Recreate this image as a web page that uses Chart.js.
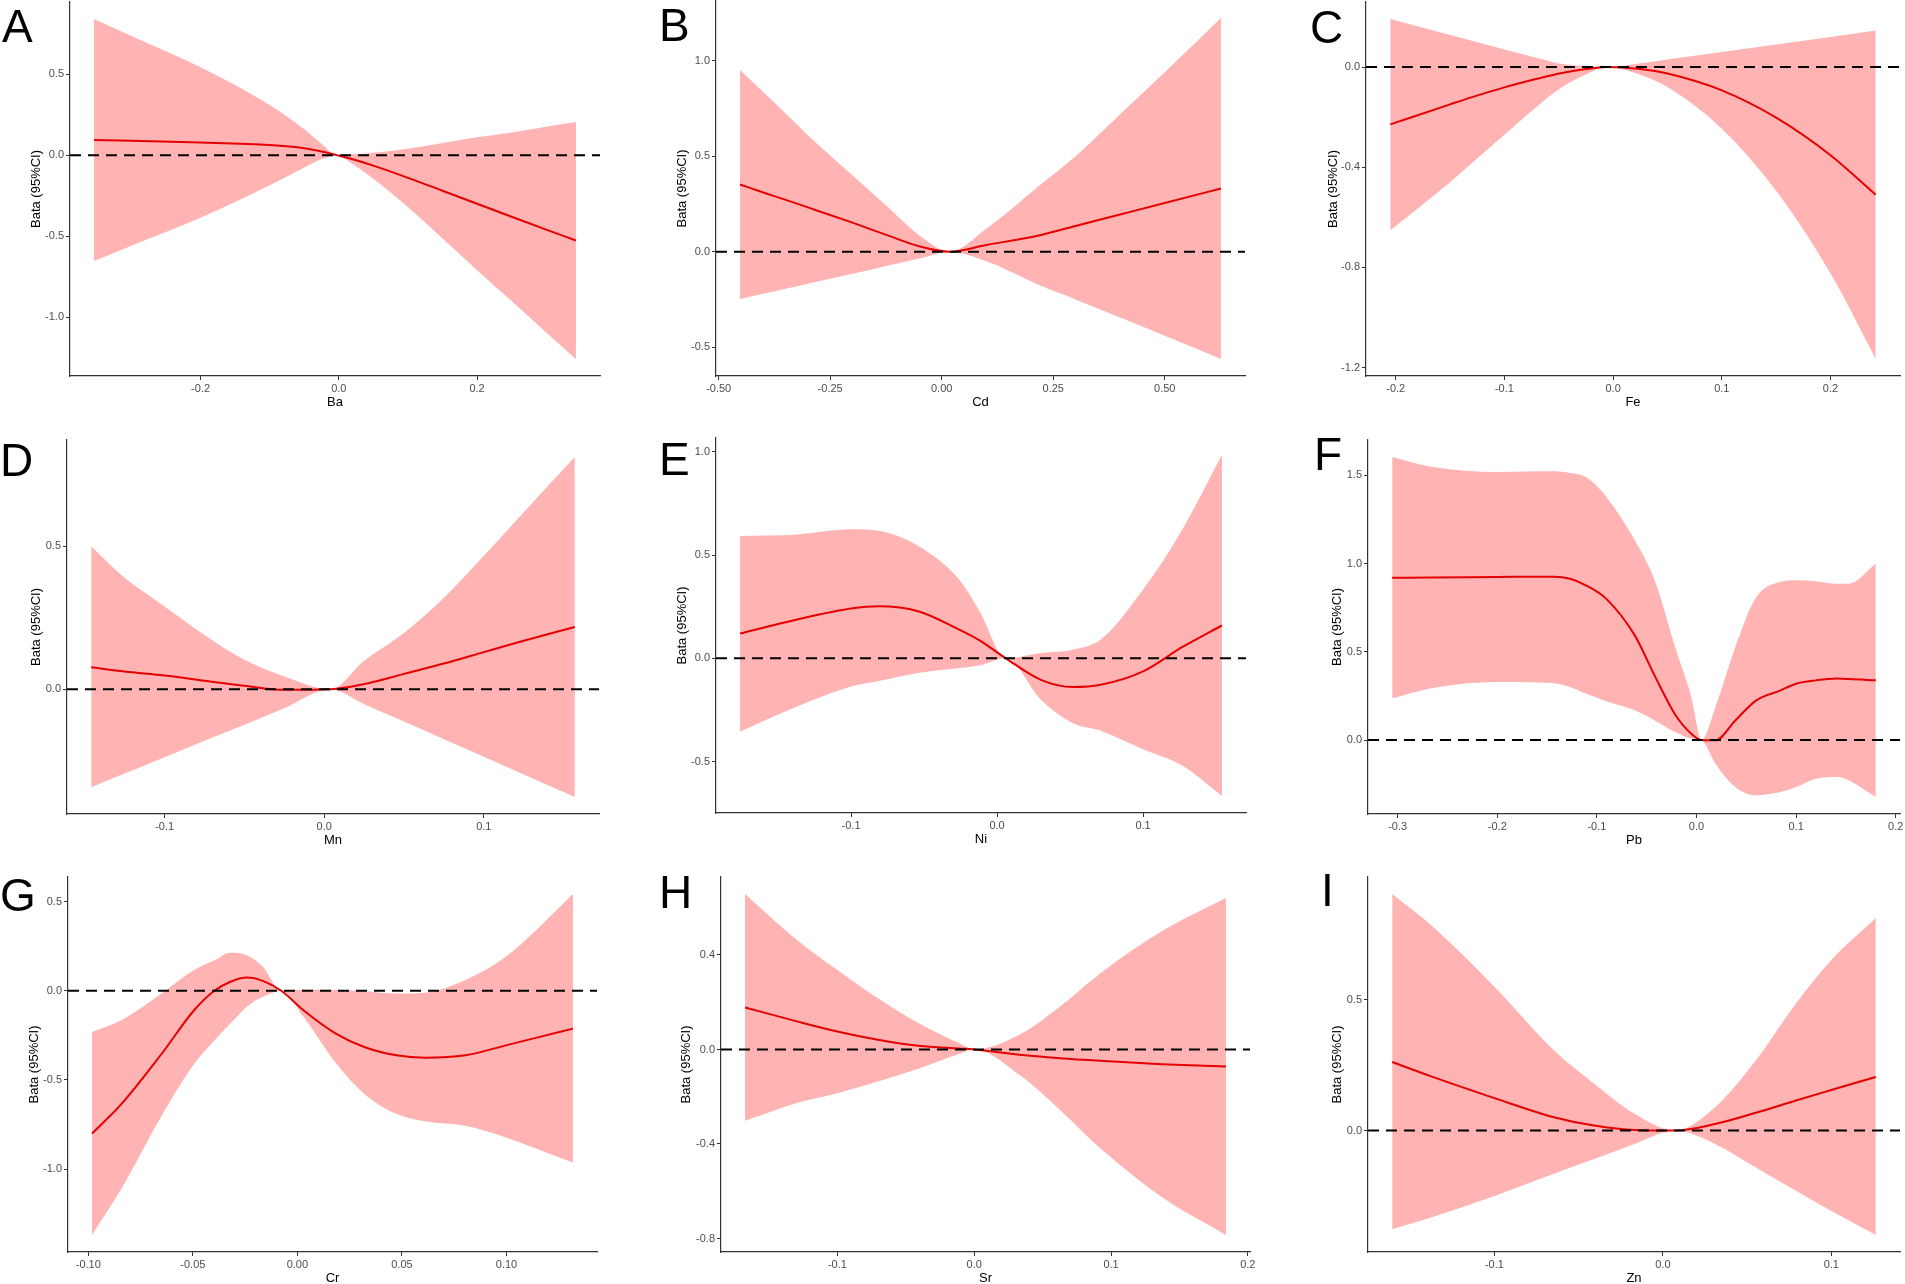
<!DOCTYPE html>
<html>
<head>
<meta charset="utf-8">
<script src="https://cdn.jsdelivr.net/npm/chart.js@4.4.1/dist/chart.umd.min.js"></script>
<style>
  html, body { margin: 0; padding: 0; background: #fff; overflow: hidden; }
  #page { position: relative; width: 1905px; height: 1284px; overflow: hidden; background: #fff; }
  #page canvas { position: absolute; }
  .tag { position: absolute; font-family: 'Liberation Sans', Arial, sans-serif; font-size: 46px; line-height: 46px; color: #000; }
</style>
</head>
<body>
<div id="page"></div>
<script>
// A - Ba
const baX = [-0.354, -0.3, -0.2, -0.1, -0.05, -0.025, -0.003, 0.02, 0.05, 0.1, 0.15, 0.2, 0.25, 0.3, 0.343];
const baFit = [0.093, 0.088, 0.078, 0.062, 0.042, 0.022, 0, -0.025, -0.065, -0.14, -0.22, -0.30, -0.38, -0.46, -0.527];
const baUpper = [0.84, 0.735, 0.543, 0.31, 0.16, 0.07, 0, 0.005, 0.015, 0.04, 0.075, 0.11, 0.14, 0.175, 0.204];
const baLower = [-0.654, -0.559, -0.387, -0.186, -0.076, -0.026, 0, -0.055, -0.145, -0.32, -0.515, -0.71, -0.90, -1.095, -1.258];
const baXTicks = [-0.2, 0, 0.2];
const baYTicks = [-1, -0.5, 0, 0.5];

// B - Cd
const cdX = [-0.452, -0.4, -0.348, -0.3, -0.2, -0.124, -0.05, 0.018, 0.1, 0.22, 0.3, 0.4, 0.5, 0.626];
const cdFit = [0.352, 0.31, 0.27, 0.232, 0.152, 0.088, 0.028, 0, 0.035, 0.086, 0.135, 0.195, 0.255, 0.331];
const cdUpper = [0.952, 0.837, 0.72, 0.61, 0.4, 0.24, 0.085, 0, 0.12, 0.348, 0.5, 0.72, 0.94, 1.224];
const cdLower = [-0.248, -0.221, -0.193, -0.168, -0.116, -0.075, -0.036, 0, -0.05, -0.176, -0.25, -0.345, -0.44, -0.562];
const cdXTicks = [-0.5, -0.25, 0, 0.25, 0.5];
const cdYTicks = [-0.5, 0, 0.5, 1];

// C - Fe
const feX = [-0.205, -0.15, -0.129, -0.1, -0.068, -0.047, -0.025, -0.006, 0.025, 0.05, 0.1, 0.15, 0.2, 0.2416];
const feFit = [-0.229, -0.149, -0.119, -0.081, -0.045, -0.024, -0.008, 0, -0.008, -0.026, -0.093, -0.202, -0.352, -0.51];
const feUpper = [0.192, 0.128, 0.104, 0.07, 0.034, 0.012, 0.003, 0, 0.015, 0.03, 0.06, 0.09, 0.12, 0.146];
const feLower = [-0.652, -0.46, -0.38, -0.27, -0.15, -0.08, -0.03, 0, -0.031, -0.08, -0.246, -0.494, -0.824, -1.166];
const feXTicks = [-0.2, -0.1, 0, 0.1, 0.2];
const feYTicks = [-1.2, -0.8, -0.4, 0];

// D - Mn
const mnX = [-0.146, -0.125, -0.1, -0.075, -0.05, -0.025, 0.004, 0.025, 0.05, 0.075, 0.1, 0.125, 0.157];
const mnFit = [0.077, 0.062, 0.048, 0.03, 0.012, -0.002, 0, 0.018, 0.054, 0.09, 0.13, 0.17, 0.218];
const mnUpper = [0.5, 0.39, 0.29, 0.19, 0.103, 0.045, 0, 0.1, 0.197, 0.32, 0.467, 0.62, 0.813];
const mnLower = [-0.343, -0.295, -0.238, -0.18, -0.124, -0.066, 0, -0.052, -0.113, -0.175, -0.236, -0.298, -0.377];
const mnXTicks = [-0.1, 0, 0.1];
const mnYTicks = [0, 0.5];

// E - Ni
const niX = [-0.176, -0.137, -0.1, -0.081, -0.054, -0.026, -0.012, 0.006, 0.03, 0.052, 0.071, 0.1, 0.127, 0.154];
const niFit = [0.12, 0.188, 0.241, 0.252, 0.228, 0.139, 0.087, 0, -0.104, -0.139, -0.128, -0.063, 0.055, 0.159];
const niUpper = [0.592, 0.6, 0.625, 0.617, 0.544, 0.382, 0.228, 0, 0.026, 0.042, 0.091, 0.333, 0.625, 0.984];
const niLower = [-0.354, -0.233, -0.136, -0.11, -0.071, -0.047, -0.035, 0, -0.2, -0.314, -0.35, -0.44, -0.52, -0.666];
const niXTicks = [-0.1, 0, 0.1];
const niYTicks = [-0.5, 0, 0.5, 1];

// F - Pb
const pbX = [-0.3055, -0.265, -0.2, -0.143, -0.127, -0.111, -0.0905, -0.062, -0.042, -0.0215, -0.0053, 0.005, 0.019, 0.039, 0.06, 0.084, 0.1, 0.12, 0.141, 0.153, 0.18];
const pbFit = [0.92, 0.921, 0.924, 0.926, 0.914, 0.877, 0.8, 0.593, 0.365, 0.145, 0.036, 0, -0.002, 0.111, 0.225, 0.28, 0.319, 0.338, 0.348, 0.346, 0.338];
const pbUpper = [1.604, 1.547, 1.519, 1.523, 1.513, 1.49, 1.377, 1.132, 0.905, 0.527, 0.244, 0, 0.187, 0.527, 0.81, 0.896, 0.905, 0.9, 0.886, 0.886, 1.0];
const pbLower = [0.236, 0.295, 0.329, 0.322, 0.3, 0.263, 0.22, 0.168, 0.111, 0.045, 0.008, 0, -0.134, -0.266, -0.314, -0.295, -0.266, -0.219, -0.21, -0.229, -0.323];
const pbXTicks = [-0.3, -0.2, -0.1, 0, 0.1, 0.2];
const pbYTicks = [0, 0.5, 1, 1.5];

// G - Cr
const crX = [-0.0982, -0.0842, -0.0649, -0.0494, -0.0397, -0.032, -0.0242, -0.0165, -0.0077, 0.0029, 0.0184, 0.032, 0.0474, 0.061, 0.0803, 0.0997, 0.115, 0.1318];
const crFit = [-0.8, -0.635, -0.353, -0.109, 0, 0.051, 0.075, 0.056, 0, -0.109, -0.24, -0.315, -0.362, -0.375, -0.362, -0.306, -0.261, -0.212];
const crUpper = [-0.231, -0.165, -0.015, 0.116, 0.171, 0.214, 0.2, 0.135, 0, 0.0075, 0.004, -0.002, -0.015, -0.011, 0.06, 0.191, 0.35, 0.5425];
const crLower = [-1.369, -1.11, -0.7, -0.41, -0.278, -0.184, -0.09, -0.034, 0, -0.146, -0.405, -0.578, -0.69, -0.732, -0.757, -0.822, -0.888, -0.963];
const crXTicks = [-0.1, -0.05, 0, 0.05, 0.1];
const crYTicks = [-1, -0.5, 0, 0.5];

// H - Sr
const srX = [-0.1675, -0.1296, -0.1, -0.0704, -0.0408, -0.0112, 0, 0.033, 0.0627, 0.0923, 0.137, 0.184];
const srFit = [0.178, 0.119, 0.076, 0.041, 0.0155, 0.004, 0, -0.0226, -0.037, -0.048, -0.062, -0.072];
const srUpper = [0.658, 0.464, 0.337, 0.217, 0.112, 0.027, 0, 0.062, 0.182, 0.323, 0.5, 0.641];
const srLower = [-0.302, -0.226, -0.185, -0.135, -0.081, -0.019, 0, -0.107, -0.256, -0.419, -0.624, -0.785];
const srXTicks = [-0.1, 0, 0.1, 0.2];
const srYTicks = [-0.8, -0.4, 0, 0.4];

// I - Zn
const znX = [-0.1607, -0.1367, -0.1, -0.0647, -0.0408, -0.0168, 0.0072, 0.031, 0.0552, 0.079, 0.1, 0.1264];
const znFit = [0.262, 0.205, 0.124, 0.051, 0.019, 0.002, 0, 0.025, 0.068, 0.115, 0.155, 0.205];
const znUpper = [0.904, 0.78, 0.55, 0.307, 0.179, 0.064, 0, 0.0895, 0.269, 0.486, 0.652, 0.812];
const znLower = [-0.377, -0.33, -0.25, -0.165, -0.109, -0.051, 0, -0.051, -0.141, -0.23, -0.307, -0.399];
const znXTicks = [-0.1, 0, 0.1];
const znYTicks = [0, 0.5];

const yTitle = 'Bata (95%CI)';
const FONT = "'Liberation Sans', Arial, sans-serif";
Chart.defaults.font.family = FONT;

// area = [left, top, right, bottom] of the plot panel on the page
const panels = [
  {tag: 'A', name: 'Ba', x: baX, fit: baFit, up: baUpper, lo: baLower, xt: baXTicks, yt: baYTicks, xDec: 1, area: [70, 2, 600, 376], titleX: 36, tagAt: [2, 3]},
  {tag: 'B', name: 'Cd', x: cdX, fit: cdFit, up: cdUpper, lo: cdLower, xt: cdXTicks, yt: cdYTicks, xDec: 2, area: [716, 1, 1245, 376], titleX: 682, tagAt: [659, 2]},
  {tag: 'C', name: 'Fe', x: feX, fit: feFit, up: feUpper, lo: feLower, xt: feXTicks, yt: feYTicks, xDec: 1, area: [1366, 2, 1900, 376], titleX: 1333, tagAt: [1310, 4]},
  {tag: 'D', name: 'Mn', x: mnX, fit: mnFit, up: mnUpper, lo: mnLower, xt: mnXTicks, yt: mnYTicks, xDec: 1, area: [67, 440, 599, 814], titleX: 36, tagAt: [0, 437]},
  {tag: 'E', name: 'Ni', x: niX, fit: niFit, up: niUpper, lo: niLower, xt: niXTicks, yt: niYTicks, xDec: 1, area: [716, 438, 1246, 813], titleX: 682, tagAt: [659, 436]},
  {tag: 'F', name: 'Pb', x: pbX, fit: pbFit, up: pbUpper, lo: pbLower, xt: pbXTicks, yt: pbYTicks, xDec: 1, area: [1368, 440, 1900, 814], titleX: 1337, tagAt: [1314, 431]},
  {tag: 'G', name: 'Cr', x: crX, fit: crFit, up: crUpper, lo: crLower, xt: crXTicks, yt: crYTicks, xDec: 2, area: [68, 877, 597, 1252], titleX: 34, tagAt: [0, 872]},
  {tag: 'H', name: 'Sr', x: srX, fit: srFit, up: srUpper, lo: srLower, xt: srXTicks, yt: srYTicks, xDec: 1, area: [721, 877, 1250, 1252], titleX: 686, tagAt: [659, 869]},
  {tag: 'I', name: 'Zn', x: znX, fit: znFit, up: znUpper, lo: znLower, xt: znXTicks, yt: znYTicks, xDec: 1, area: [1368, 877, 1900, 1252], titleX: 1337, tagAt: [1321, 867]}
];

const page = document.getElementById('page');

// ggplot-style 5% expansion of the data range
function expand(min, max) {
  const d = (max - min) * 0.05;
  return [min - d, max + d];
}

function pts(xs, ys) {
  return xs.map((x, i) => ({x: x, y: ys[i]}));
}

function drawPanel(p) {
  const [L, T, R, B] = p.area;
  const cl = L - 90, ct = T - 15;
  const cw = R - L + 110, ch = B - T + 60;
  const padLeft = p.titleX - 7.8 - cl;

  const canvas = document.createElement('canvas');
  canvas.width = cw;
  canvas.height = ch;
  canvas.style.left = cl + 'px';
  canvas.style.top = ct + 'px';
  canvas.style.width = cw + 'px';
  canvas.style.height = ch + 'px';
  page.appendChild(canvas);

  const tag = document.createElement('div');
  tag.className = 'tag';
  tag.textContent = p.tag;
  tag.style.left = p.tagAt[0] + 'px';
  tag.style.top = p.tagAt[1] + 'px';
  page.appendChild(tag);

  const [xMin, xMax] = expand(Math.min(...p.x), Math.max(...p.x));
  const [yMin, yMax] = expand(Math.min(...p.lo, 0), Math.max(...p.up, 0));

  const axisCommon = {
    type: 'linear',
    grid: {display: true, drawOnChartArea: false, drawTicks: true, tickLength: 4, tickColor: '#333', tickWidth: 1},
    border: {display: true, color: '#333', width: 1.2}
  };

  new Chart(canvas, {
    type: 'line',
    data: {
      datasets: [
        {data: [{x: xMin, y: 0}, {x: xMax, y: 0}], borderColor: '#000', borderWidth: 2, borderDash: [11, 7],
         pointRadius: 0, fill: false, order: 0},
        {data: pts(p.x, p.fit), borderColor: '#e60000', borderWidth: 2, pointRadius: 0, fill: false,
         cubicInterpolationMode: 'monotone', order: 1},
        {data: pts(p.x, p.up), borderColor: 'rgba(0,0,0,0)', borderWidth: 0, pointRadius: 0,
         backgroundColor: '#ffb3b3', fill: 3, cubicInterpolationMode: 'monotone', order: 2},
        {data: pts(p.x, p.lo), borderColor: 'rgba(0,0,0,0)', borderWidth: 0, pointRadius: 0, fill: false,
         cubicInterpolationMode: 'monotone', order: 3}
      ]
    },
    options: {
      responsive: false,
      animation: false,
      events: [],
      layout: {padding: {left: padLeft, top: 15, right: 20, bottom: 11}},
      plugins: {legend: {display: false}, tooltip: {enabled: false}},
      scales: {
        x: Object.assign({}, axisCommon, {
          min: xMin, max: xMax,
          afterBuildTicks: s => { s.ticks = p.xt.map(v => ({value: v})); },
          afterFit: s => { s.height = 34; },
          ticks: {color: '#4d4d4d', font: {size: 11}, padding: 2, autoSkip: false, maxRotation: 0,
                  callback: v => Number(v).toFixed(p.xDec)},
          title: {display: true, text: p.name, color: '#000', font: {size: 13}, padding: {top: 0, bottom: 0}}
        }),
        y: Object.assign({}, axisCommon, {
          min: yMin, max: yMax,
          afterBuildTicks: s => { s.ticks = p.yt.map(v => ({value: v})); },
          afterFit: s => { s.width = L - cl - padLeft; },
          ticks: {color: '#4d4d4d', font: {size: 11}, padding: 2, autoSkip: false,
                  callback: v => Number(v).toFixed(1)},
          title: {display: true, text: yTitle, color: '#000', font: {size: 13}, padding: {top: 0, bottom: 0}}
        })
      }
    }
  });
}

panels.forEach(drawPanel);
</script>
</body>
</html>
